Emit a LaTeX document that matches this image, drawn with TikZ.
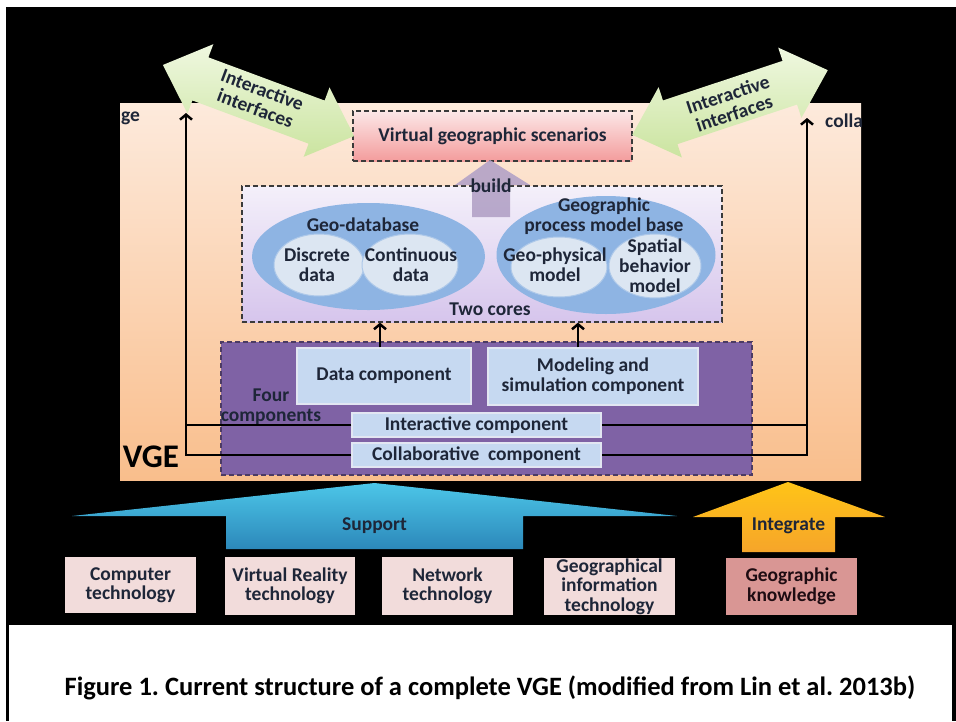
\documentclass[tikz,border=0pt]{standalone}
\usepackage{fontspec}
\setmainfont{Carlito}
\usetikzlibrary{arrows.meta,shapes.geometric,calc}

\definecolor{ink}{HTML}{1E2638}
\definecolor{peachT}{HTML}{FDEADC}
\definecolor{peachB}{HTML}{F9BE8C}
\definecolor{scenT}{HTML}{FCE7E7}
\definecolor{scenB}{HTML}{F39C9C}
\definecolor{coreT}{HTML}{F4F0FA}
\definecolor{coreB}{HTML}{D6C5EC}
\definecolor{ellblue}{HTML}{8EB4E3}
\definecolor{innerblue}{HTML}{DCE6F2}
\definecolor{compblue}{HTML}{C6D9F1}
\definecolor{compedge}{HTML}{E2E6F2}
\definecolor{fourpurple}{HTML}{7F62A5}
\definecolor{buildpurple}{HTML}{B3A2C7}
\definecolor{greenT}{HTML}{EFF8E0}
\definecolor{greenB}{HTML}{CBE4A0}
\definecolor{supT}{HTML}{4CC6E8}
\definecolor{supB}{HTML}{2C88BA}
\definecolor{intT}{HTML}{FFC417}
\definecolor{intB}{HTML}{F6A52A}
\definecolor{techpink}{HTML}{F2DCDB}
\definecolor{knowpink}{HTML}{D99694}
\definecolor{dashc}{HTML}{3A3A3A}

\begin{document}
\frenchspacing
\begin{tikzpicture}[x=1pt,y=-1pt,
  lbl/.style={font=\fontsize{19.5}{20}\selectfont\bfseries, text=ink, align=center, inner sep=0pt},
  dashbox/.style={draw=dashc, line width=1.3pt, dash pattern=on 5pt off 3pt},
  compbox/.style={lbl, fill=compblue, draw=compedge, line width=1.5pt},
  techbox/.style={lbl, fill=techpink, minimum width=131pt, font=\fontsize{19.5}{19.5}\selectfont\bfseries},
  bigell/.style={ellipse, fill=ellblue, inner sep=0pt},
  smallell/.style={ellipse, fill=innerblue, draw=ellblue!60!innerblue, line width=1pt, inner sep=0pt},
  link/.style={line width=2.5pt, draw=black},
  uparrow/.style={link, -{Straight Barb[length=5pt,width=12pt]}},
  greenarrow/.style={top color=greenT, bottom color=greenB, draw=none},
]
\useasboundingbox (0,0) rectangle (956,721);
\fill[white] (0,0) rectangle (956,721);

% dark panel and frame
\fill[black] (6,7) rectangle (956,625);
\draw[line width=3pt] (7,625) -- (7,721);
\draw[line width=4pt] (954,625) -- (954,721);

% VGE region
\node[top color=peachT, bottom color=peachB, minimum width=741pt, minimum height=377pt, inner sep=0pt] (vge) at (490.5,291.5) {};
\begin{scope}
  \clip (vge.south west) rectangle (vge.north east);
  \node[lbl, anchor=west] (geL) at (121,118) {ge};
  \node[lbl, anchor=west] (collaR) at (825,121) {colla};
\end{scope}
\node[font=\fontsize{33}{33}\selectfont\bfseries, text=black, inner sep=0pt] (vgelbl) at (151,457) {VGE};

% virtual geographic scenarios
\node[lbl, dashbox, top color=scenT, bottom color=scenB, minimum width=279pt, minimum height=50pt] (scen) at (492.5,136) {Virtual geographic scenarios};

% two cores
\node[dashbox, top color=coreT, bottom color=coreB, minimum width=480pt, minimum height=136pt, inner sep=0pt] (cores) at (482,254) {};
\node[bigell, minimum width=233pt, minimum height=107pt] (geodb) at (368.5,256.5) {};
\node[bigell, minimum width=219pt, minimum height=118pt] (gpmb) at (606,255) {};
\node[smallell, minimum width=90pt, minimum height=62pt] (discrete) at (319,265) {};
\node[smallell, minimum width=96pt, minimum height=62pt] (continuous) at (410,265) {};
\node[smallell, minimum width=96pt, minimum height=60pt] (geophys) at (559,267) {};
\node[smallell, minimum width=92pt, minimum height=64pt] (spatial) at (655,266) {};
\node[lbl] (discretel) at (317,264.5) {Discrete\\data};
\node[lbl] (continuousl) at (411,264.5) {Continuous\\data};
\node[lbl] (geophysl) at (555,264.5) {Geo-physical\\model};
\node[lbl] (spatiall) at (655,266) {Spatial\\behavior\\model};
\node[lbl] (geodbl) at (363,225) {Geo-database};
\node[lbl] (gpmbl) at (604,216) {Geographic\\process model base};
\node[lbl] (twocores) at (490,309) {Two cores};

% build arrow
\fill[buildpurple, opacity=0.9] (490,160) -- (530,185) -- (510,185) -- (510,217) -- (472,217) -- (472,185) -- (455,185) -- cycle;
\node[lbl] (build) at (491,186) {build};

% four components
\node[dashbox, draw=fourpurple!60!black, fill=fourpurple, minimum width=531pt, minimum height=133pt, inner sep=0pt] (four) at (486.5,408.5) {};
\node[compbox, minimum width=174pt, minimum height=56pt] (data) at (384,376) {Data component};
\node[compbox, minimum width=210pt, minimum height=57pt] (model) at (593,376.5) {Modeling and\\simulation component};
\node[compbox, minimum width=249pt, minimum height=24pt] (inter) at (476.5,425) {Interactive component};
\node[compbox, minimum width=249pt, minimum height=24pt] (collab) at (476.5,455) {Collaborative\ \ component};
\node[lbl, text=ink] (fourl) at (271,407) {Four\\components};

% connectors
\coordinate (lt) at (186,113);
\coordinate (rt) at (807,118);
\draw[uparrow] (collab.west) -| (lt);
\draw[link] (inter.west) -- (lt |- inter.west);
\draw[uparrow] (collab.east) -| (rt);
\draw[link] (inter.east) -- (rt |- inter.east);
\draw[uparrow] ([xshift=-4pt]data.north) -- ([xshift=-4pt]data.north |- cores.south);
\draw[uparrow] ([xshift=-15pt]model.north) -- ([xshift=-15pt]model.north |- cores.south);

% interactive interfaces
\begin{scope}[shift={(258.5,100.5)}, rotate=-20.4]
  \path[greenarrow] (-102,0) -- (-62,-37) -- (-62,-23) -- (62,-23) -- (62,-37) -- (102,0) -- (62,37) -- (62,23) -- (-62,23) -- (-62,37) -- cycle;
\end{scope}
\begin{scope}[shift={(730,102.5)}, rotate=18.3]
  \path[greenarrow] (-103,0) -- (-63,-37) -- (-63,-23) -- (63,-23) -- (63,-37) -- (103,0) -- (63,37) -- (63,23) -- (-63,23) -- (-63,37) -- cycle;
\end{scope}
\node[lbl, rotate=-20.4] (ifaceL) at (259,99) {Interactive\\interfaces};
\node[lbl, rotate=18.3] (ifaceR) at (731,104) {Interactive\\interfaces};

% support and integrate
\path[top color=supT, bottom color=supB] (374.5,483) -- (677,516) -- (523,516) -- (523,549) -- (226,549) -- (226,516) -- (72,516) -- cycle;
\node[lbl] (support) at (374.5,526) {Support};
\path[top color=intT, bottom color=intB] (788,482) -- (885,517) -- (835,517) -- (835,552) -- (742,552) -- (742,517) -- (693,517) -- cycle;
\node[lbl] (integrate) at (788.5,526) {Integrate};

% technologies
\node[techbox, minimum height=56pt] (comp) at (130.5,585) {Computer\\technology};
\node[techbox, minimum width=130pt, minimum height=58pt] (vr) at (290,586) {Virtual Reality\\technology};
\node[techbox, minimum height=58pt] (net) at (447.5,586) {Network\\technology};
\node[techbox, minimum height=57pt] (git) at (609.5,586.5) {Geographical\\information\\technology};
\node[techbox, fill=knowpink, text=ink!80!red!40!black, minimum height=57pt] (know) at (791.5,586.5) {Geographic\\knowledge};

% caption
\node[font=\fontsize{26.5}{30}\selectfont\bfseries, text=black, inner sep=0pt] (cap) at (490,688) {Figure 1. Current structure of a complete VGE (modified from Lin et al. 2013b)};
\end{tikzpicture}
\end{document}
